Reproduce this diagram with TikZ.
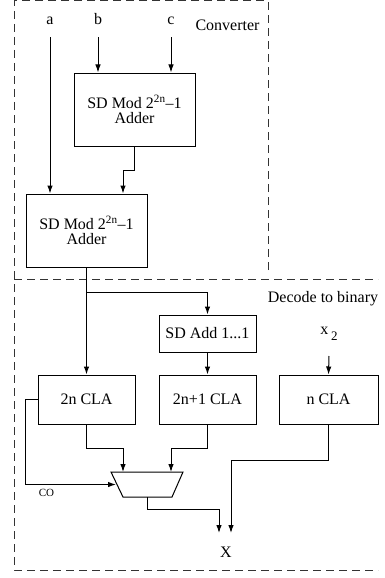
\documentclass[tikz,border=0pt]{standalone}
\usepackage{fontspec}
\setmainfont{Liberation Serif}
\usetikzlibrary{arrows.meta}

\tikzset{
  blk/.style={draw, line width=1pt, inner sep=0pt, align=center,
    font=\fontsize{16}{15}\selectfont},
  lbl/.style={inner sep=0pt, anchor=base, font=\fontsize{16}{19}\selectfont},
  arr/.style={-{Latex[length=8pt,width=5.5pt]}},
  region/.style={line width=1pt, black!80, dash pattern=on 8pt off 5pt},
}

\begin{document}
\begin{tikzpicture}[x=1pt, y=-1pt, line width=1pt]
    \useasboundingbox (0,0) rectangle (384,578);

    % zone tratteggiate
    \draw[region] (268,270) -- (268,1) -- (14,1) -- (14,570) -- (378,570);
    \draw[region] (14,279) -- (378,279);
    \node[lbl] (conv) at (227.5,30.5) {Converter};
    \node[lbl] (dec) at (323,302) {Decode to binary};

    % ingressi
    \node[lbl] (ina) at (50,25) {a};
    \node[lbl] (inb) at (98,25) {b};
    \node[lbl] (inc) at (171,25) {c};
    \node[lbl] (inx) at (329,334) {x\,\raisebox{-6pt}{\fontsize{13}{13}\selectfont 2}};

    % blocchi del convertitore
    \node[blk, minimum width=121pt, minimum height=73pt] (adda) at (134.5,109.5)
        {SD Mod 2\textsuperscript{2n}--1\\Adder};
    \node[blk, minimum width=121pt, minimum height=73pt] (addb) at (86.5,230.5)
        {SD Mod 2\textsuperscript{2n}--1\\Adder};

    % blocchi di decodifica
    \node[blk, minimum width=97pt, minimum height=37pt] (sdadd) at (207.5,333.5) {SD Add 1...1};
    \node[blk, minimum width=97pt, minimum height=49pt] (claa) at (86.5,399.5) {2n CLA};
    \node[blk, minimum width=97pt, minimum height=49pt] (clab) at (207.5,399.5) {2n+1 CLA};
    \node[blk, minimum width=99pt, minimum height=49pt] (clac) at (328.5,399.5) {n CLA};

    % multiplexer
    \draw (111,472) -- (183,472) -- (172,497) -- (123,497) -- cycle;
    \coordinate (muxa) at (123,472);
    \coordinate (muxb) at (171,472);
    \coordinate (muxs) at (116,484.5);
    \coordinate (muxo) at (147,497);
    \node[font=\fontsize{11}{13}\selectfont, inner sep=0pt, anchor=base] (co) at (46.5,496) {CO};

    % uscita
    \node[lbl] (out) at (226,557) {X};
    \coordinate (outa) at (219,533);
    \coordinate (outb) at (231,533);

    % collegamenti
    \draw[arr] ([yshift=-12.5pt]ina.base) -- (ina |- addb.north);
    \draw[arr] ([yshift=-12.5pt]inb.base) -- (inb |- adda.north);
    \draw[arr] ([yshift=-12.5pt]inc.base) -- (inc |- adda.north);
    \draw[arr] (adda.south) -- ++(0,24) -| ([xshift=36.5pt]addb.north);
    \draw[arr] (addb.south) -- (claa.north);
    \coordinate (split) at (86.5,292);
    \draw[arr] (split) -| (sdadd.north);
    \draw[arr] (sdadd.south) -- (clab.north);
    \draw[arr] ([yshift=-22pt]inx.base) -- (clac.north);
    \draw[arr] (claa.south) -- ++(0,24) -| (muxa);
    \draw[arr] (clab.south) -- ++(0,24) -| (muxb);
    \draw[arr] (claa.west) -- ++(-12,0) |- (muxs);
    \draw[arr] (muxo) -- ++(0,12) -| (outa);
    \draw[arr] (clac.south) -- ++(0,36) -| (outb);
\end{tikzpicture}
\end{document}
